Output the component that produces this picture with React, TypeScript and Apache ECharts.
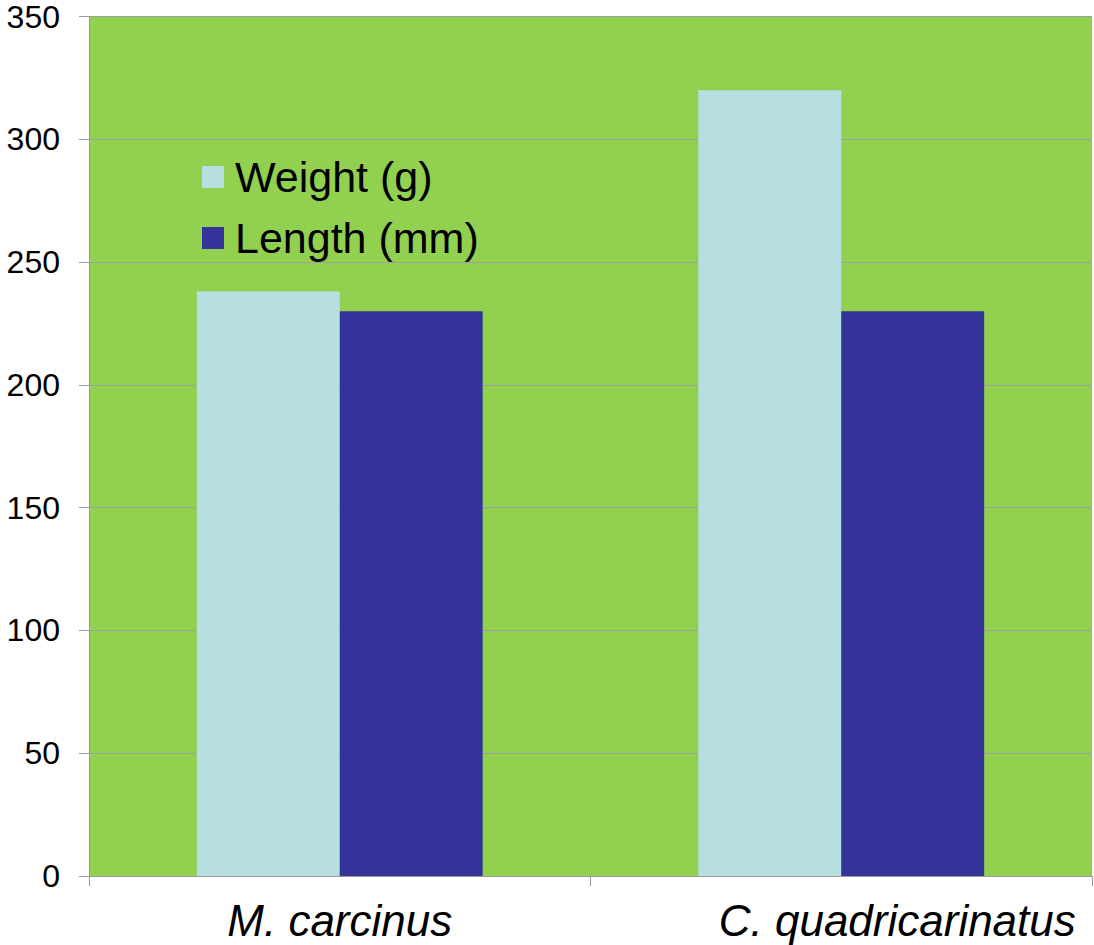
import React, { useEffect, useRef } from "react";
import * as echarts from "echarts";

const categories = ["M. carcinus", "C. quadricarinatus"];
const weightValues = [238, 320];
const lengthValues = [230, 230];
const seriesNames = ["Weight (g)", "Length (mm)"];
const yTicks = { min: 0, max: 350, interval: 50 };

export default function App() {
  const ref = useRef<HTMLDivElement>(null);

  useEffect(() => {
    if (!ref.current) return;
    const chart = echarts.init(ref.current, null, { renderer: "svg" });
    const font = "'Liberation Sans', Arial, sans-serif";
    chart.setOption({
      animation: false,
      textStyle: { fontFamily: font },
      grid: {
        left: 89,
        right: 2,
        top: 16.5,
        bottom: 69,
        show: true,
        backgroundColor: "#92d050",
        borderWidth: 0,
      },
      legend: {
        orient: "vertical",
        left: 197,
        top: 150,
        itemWidth: 22,
        itemHeight: 22,
        itemGap: 17,
        icon: "rect",
        textStyle: {
          fontSize: 43,
          lineHeight: 44,
          color: "#000",
          fontFamily: font,
          padding: [0, 0, 0, 6],
        },
        data: seriesNames,
      },
      xAxis: {
        type: "category",
        data: [
          { value: categories[0] },
          { value: categories[1], textStyle: { padding: [0, 0, 0, 112] } },
        ],
        axisLine: { show: true, lineStyle: { color: "#999999", width: 1 } },
        axisTick: { show: true, length: 10, lineStyle: { color: "#999999" } },
        axisLabel: {
          fontSize: 44,
          fontStyle: "italic",
          color: "#000",
          margin: 22,
          fontFamily: font,
        },
      },
      yAxis: {
        type: "value",
        min: yTicks.min,
        max: yTicks.max,
        interval: yTicks.interval,
        axisLine: { show: true, lineStyle: { color: "#999999", width: 1 } },
        axisTick: { show: true, length: 10, lineStyle: { color: "#999999" } },
        axisLabel: {
          fontSize: 32,
          lineHeight: 28,
          color: "#000",
          margin: 29,
          fontFamily: font,
        },
        splitLine: { show: true, lineStyle: { color: "#a0a0a0", width: 1 } },
      },
      series: [
        {
          name: seriesNames[0],
          type: "bar",
          data: weightValues,
          itemStyle: { color: "#b7dfe2" },
          barGap: "0%",
          barCategoryGap: "43%",
        },
        {
          name: seriesNames[1],
          type: "bar",
          data: lengthValues,
          itemStyle: { color: "#333399" },
          barGap: "0%",
          barCategoryGap: "43%",
        },
      ],
    });
    return () => chart.dispose();
  }, []);

  return (
    <div
      ref={ref}
      style={{ position: "fixed", left: 0, top: 0, width: 1094, height: 945, background: "#fff" }}
    />
  );
}
